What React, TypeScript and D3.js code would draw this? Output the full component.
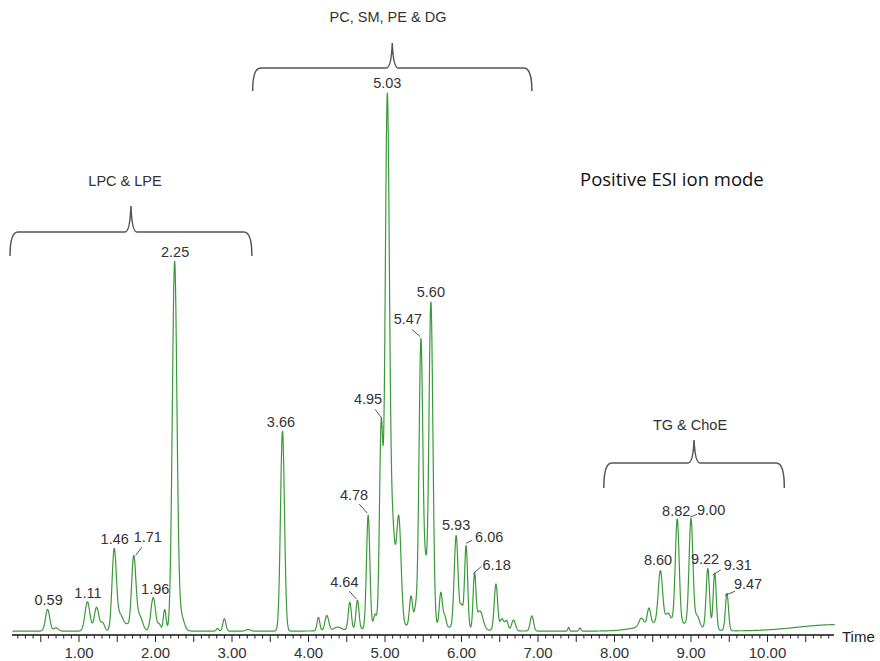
import React from 'react';
import * as d3 from 'd3';

// ---- Data ----
const peakTimes = [0.59, 0.70, 1.11, 1.23, 1.31, 1.46, 1.54, 1.63, 1.715, 1.79, 1.97, 2.05, 2.12, 2.25, 2.33, 2.81, 2.90, 3.21, 3.66, 4.13, 4.24, 4.38, 4.54, 4.64, 4.78, 4.87, 4.95, 5.03, 5.10, 5.18, 5.34, 5.40, 5.47, 5.53, 5.60, 5.73, 5.78, 5.93, 6.00, 6.06, 6.17, 6.24, 6.45, 6.53, 6.59, 6.68, 6.92, 7.40, 7.55, 8.35, 8.45, 8.60, 8.70, 8.82, 9.00, 9.08, 9.22, 9.31, 9.47, 8.70, 10.90, 5.40];
const peakHeights = [4.0, 0.6, 5.4, 4.4, 1.5, 14.9, 3.0, 1.0, 13.5, 2.8, 6.2, 1.2, 4.0, 68, 3.0, 0.5, 2.3, 0.3, 37, 2.5, 2.8, 0.6, 5.1, 5.4, 21, 2.5, 37, 97.5, 17, 20, 5.5, 3.0, 53, 9, 60, 6.3, 2.0, 17.1, 4.0, 15.4, 9.8, 3.5, 8.6, 2.2, 1.8, 2.0, 2.8, 0.7, 0.6, 1.5, 3.0, 9.5, 1.5, 19.1, 19.7, 2.0, 11.2, 10.5, 6.9, 1.8, 1.2, 1.0];
const peakWidths = [0.028, 0.03, 0.032, 0.03, 0.025, 0.028, 0.04, 0.03, 0.028, 0.04, 0.03, 0.02, 0.018, 0.03, 0.04, 0.015, 0.02, 0.03, 0.026, 0.018, 0.025, 0.05, 0.02, 0.02, 0.022, 0.02, 0.022, 0.028, 0.03, 0.03, 0.02, 0.02, 0.025, 0.02, 0.026, 0.02, 0.02, 0.025, 0.02, 0.02, 0.018, 0.04, 0.022, 0.025, 0.02, 0.025, 0.022, 0.01, 0.012, 0.03, 0.022, 0.028, 0.03, 0.025, 0.025, 0.03, 0.022, 0.02, 0.02, 0.3, 0.5, 0.5];
const baselineLevel = 0.35;
const timeStart = 0.13;
const timeEnd = 10.88;

const tickValues = [1, 2, 3, 4, 5, 6, 7, 8, 9, 10];
const tickLabels = ['1.00', '2.00', '3.00', '4.00', '5.00', '6.00', '7.00', '8.00', '9.00', '10.00'];

const labelTexts = ['0.59', '1.11', '1.46', '1.71', '1.96', '2.25', '3.66', '4.64', '4.78', '4.95', '5.03', '5.47', '5.60', '5.93', '6.06', '6.18', '8.60', '8.82', '9.00', '9.22', '9.31', '9.47'];
const labelTimes = [0.59, 1.11, 1.46, 1.715, 1.97, 2.25, 3.66, 4.64, 4.78, 4.95, 5.03, 5.47, 5.60, 5.93, 6.06, 6.17, 8.60, 8.82, 9.00, 9.22, 9.31, 9.47];

const groupNames = ['LPC & LPE', 'PC, SM, PE & DG', 'TG & ChoE'];
const groupStart = [0.098, 3.27, 7.86];
const groupEnd = [3.26, 6.92, 10.22];

// ---- Layout (pixels) ----
const W = 880;
const H = 661;
const X0 = 2.5; // pixel of t=0
const PX_PER_MIN = 76.5;
const Y_BASE = 633;
const Y_TOP = 92;
const AXIS_Y = 635;

type LabelLayout = { anchor: 'start' | 'middle' | 'end'; dx: number; dy: number; leader?: number[] };
const labelLayout: Record<string, LabelLayout> = {
  '0.59': { anchor: 'middle', dx: 1, dy: -4 },
  '1.11': { anchor: 'middle', dx: 0.5, dy: -4 },
  '1.46': { anchor: 'middle', dx: 0.5, dy: -4 },
  '1.71': { anchor: 'start', dx: 0, dy: -13, leader: [2, 0, 8, -8] },
  '1.96': { anchor: 'middle', dx: 2, dy: -4 },
  '2.25': { anchor: 'middle', dx: 0.5, dy: -4 },
  '3.66': { anchor: 'middle', dx: -1.5, dy: -4 },
  '4.64': { anchor: 'end', dx: 1, dy: -13, leader: [-1, -1, -8, -9] },
  '4.78': { anchor: 'end', dx: 0, dy: -15, leader: [-1, -2, -9, -11] },
  '4.95': { anchor: 'end', dx: 1, dy: -14, leader: [0, -1, -6, -9] },
  '5.03': { anchor: 'middle', dx: 0, dy: -5 },
  '5.47': { anchor: 'end', dx: 1, dy: -14, leader: [-1, -2, -9, -9] },
  '5.60': { anchor: 'middle', dx: 0, dy: -4 },
  '5.93': { anchor: 'middle', dx: 0, dy: -5 },
  '6.06': { anchor: 'start', dx: 9, dy: -3, leader: [0, -2, 6, -5] },
  '6.18': { anchor: 'start', dx: 8, dy: -2, leader: [-1, 1, 7, -6] },
  '8.60': { anchor: 'middle', dx: -2.4, dy: -5 },
  '8.82': { anchor: 'middle', dx: -1, dy: -3 },
  '9.00': { anchor: 'start', dx: 6, dy: -3, leader: [-1, -1, 6, -4] },
  '9.22': { anchor: 'middle', dx: -2.8, dy: -4 },
  '9.31': { anchor: 'start', dx: 9, dy: -3, leader: [-2, 2, 6, -3] },
  '9.47': { anchor: 'start', dx: 7, dy: -4, leader: [-2, 2, 8, -2] },
};

const bracketLayout = [
  { yTop: 232, yBottom: 256, yTip: 206, labelX: 125, labelY: 186 },
  { yTop: 68, yBottom: 91, yTip: 43, labelX: 388, labelY: 22 },
  { yTop: 463, yBottom: 488, yTip: 440, labelX: 690, labelY: 430 },
];

const LABEL_FONT = '"Liberation Sans", Arial, sans-serif';

function signal(t: number): number {
  let s = baselineLevel;
  for (let i = 0; i < peakTimes.length; i++) {
    const z = (t - peakTimes[i]) / peakWidths[i];
    if (Math.abs(z) < 8) s += peakHeights[i] * Math.exp(-0.5 * z * z);
  }
  return s;
}

export default function App() {
  const x = d3.scaleLinear().domain([0, 10]).range([X0, X0 + 10 * PX_PER_MIN]);
  const y = d3.scaleLinear().domain([0, 100]).range([Y_BASE, Y_TOP]);

  const times = d3.range(timeStart, timeEnd, 0.004);
  const pts: [number, number][] = times.map((t) => [t, signal(t)]);
  const line = d3
    .line<[number, number]>()
    .x((d) => x(d[0]))
    .y((d) => y(d[1]));

  const axisStartX = 12;
  const axisEndX = 834;
  const minorTicks = d3.range(2, 109).map((k) => k / 10);

  const bracketPath = (x0: number, x1: number, yt: number, yb: number, ytip: number) => {
    const xm = (x0 + x1) / 2;
    const r = 8;
    return [
      `M${x0},${yb}`,
      `Q${x0},${yt} ${x0 + r},${yt}`,
      `L${xm - 6},${yt}`,
      `Q${xm - 1},${yt} ${xm},${ytip}`,
      `Q${xm + 1},${yt} ${xm + 6},${yt}`,
      `L${x1 - r},${yt}`,
      `Q${x1},${yt} ${x1},${yb}`,
    ].join(' ');
  };

  return (
    <svg
      width={W}
      height={H}
      viewBox={`0 0 ${W} ${H}`}
      style={{ position: 'absolute', left: 0, top: 0, background: '#fff' }}
    >
      <rect x={0} y={0} width={W} height={H} fill="#fff" />

      {/* chromatogram trace */}
      <path d={line(pts) || ''} fill="none" stroke="#3a9a3a" strokeWidth={1.2} strokeLinejoin="round" />

      {/* axis */}
      <line x1={axisStartX} x2={axisEndX} y1={AXIS_Y} y2={AXIS_Y} stroke="#111" strokeWidth={1.6} />
      {minorTicks.map((v) => {
        const major = Math.round(v * 10) % 5 === 0;
        return (
          <line
            key={v}
            x1={x(v)}
            x2={x(v)}
            y1={AXIS_Y}
            y2={AXIS_Y + (major ? 7 : 3.5)}
            stroke="#222"
            strokeWidth={1}
          />
        );
      })}
      {tickValues.map((v, i) => (
        <text
          key={v}
          x={x(v)}
          y={658}
          textAnchor="middle"
          fontFamily={LABEL_FONT}
          fontSize={15}
          fill="#333"
        >
          {tickLabels[i]}
        </text>
      ))}
      <text x={842} y={642} fontFamily={LABEL_FONT} fontSize={15} fill="#222">
        Time
      </text>

      {/* peak labels */}
      {labelTexts.map((txt, i) => {
        const t = labelTimes[i];
        const ax = x(t);
        const ay = y(signal(t));
        const L = labelLayout[txt];
        return (
          <g key={txt}>
            {L.leader && (
              <line
                x1={ax + L.leader[0]}
                y1={ay + L.leader[1]}
                x2={ax + L.leader[2]}
                y2={ay + L.leader[3]}
                stroke="#555"
                strokeWidth={1}
              />
            )}
            <text
              x={ax + L.dx}
              y={ay + L.dy}
              textAnchor={L.anchor}
              fontFamily={LABEL_FONT}
              fontSize={14.5}
              fill="#333"
            >
              {txt}
            </text>
          </g>
        );
      })}

      {/* group brackets */}
      {groupNames.map((name, i) => {
        const B = bracketLayout[i];
        return (
          <g key={name}>
            <path
              d={bracketPath(x(groupStart[i]), x(groupEnd[i]), B.yTop, B.yBottom, B.yTip)}
              fill="none"
              stroke="#555"
              strokeWidth={1.5}
            />
            <text
              x={B.labelX}
              y={B.labelY}
              textAnchor="middle"
              fontFamily={LABEL_FONT}
              fontSize={14.5}
              fill="#333"
            >
              {name}
            </text>
          </g>
        );
      })}

      <text x={580} y={186} fontFamily='"Open Sans", "Noto Sans", sans-serif' fontSize={18.5} fill="#111">
        Positive ESI ion mode
      </text>
    </svg>
  );
}
